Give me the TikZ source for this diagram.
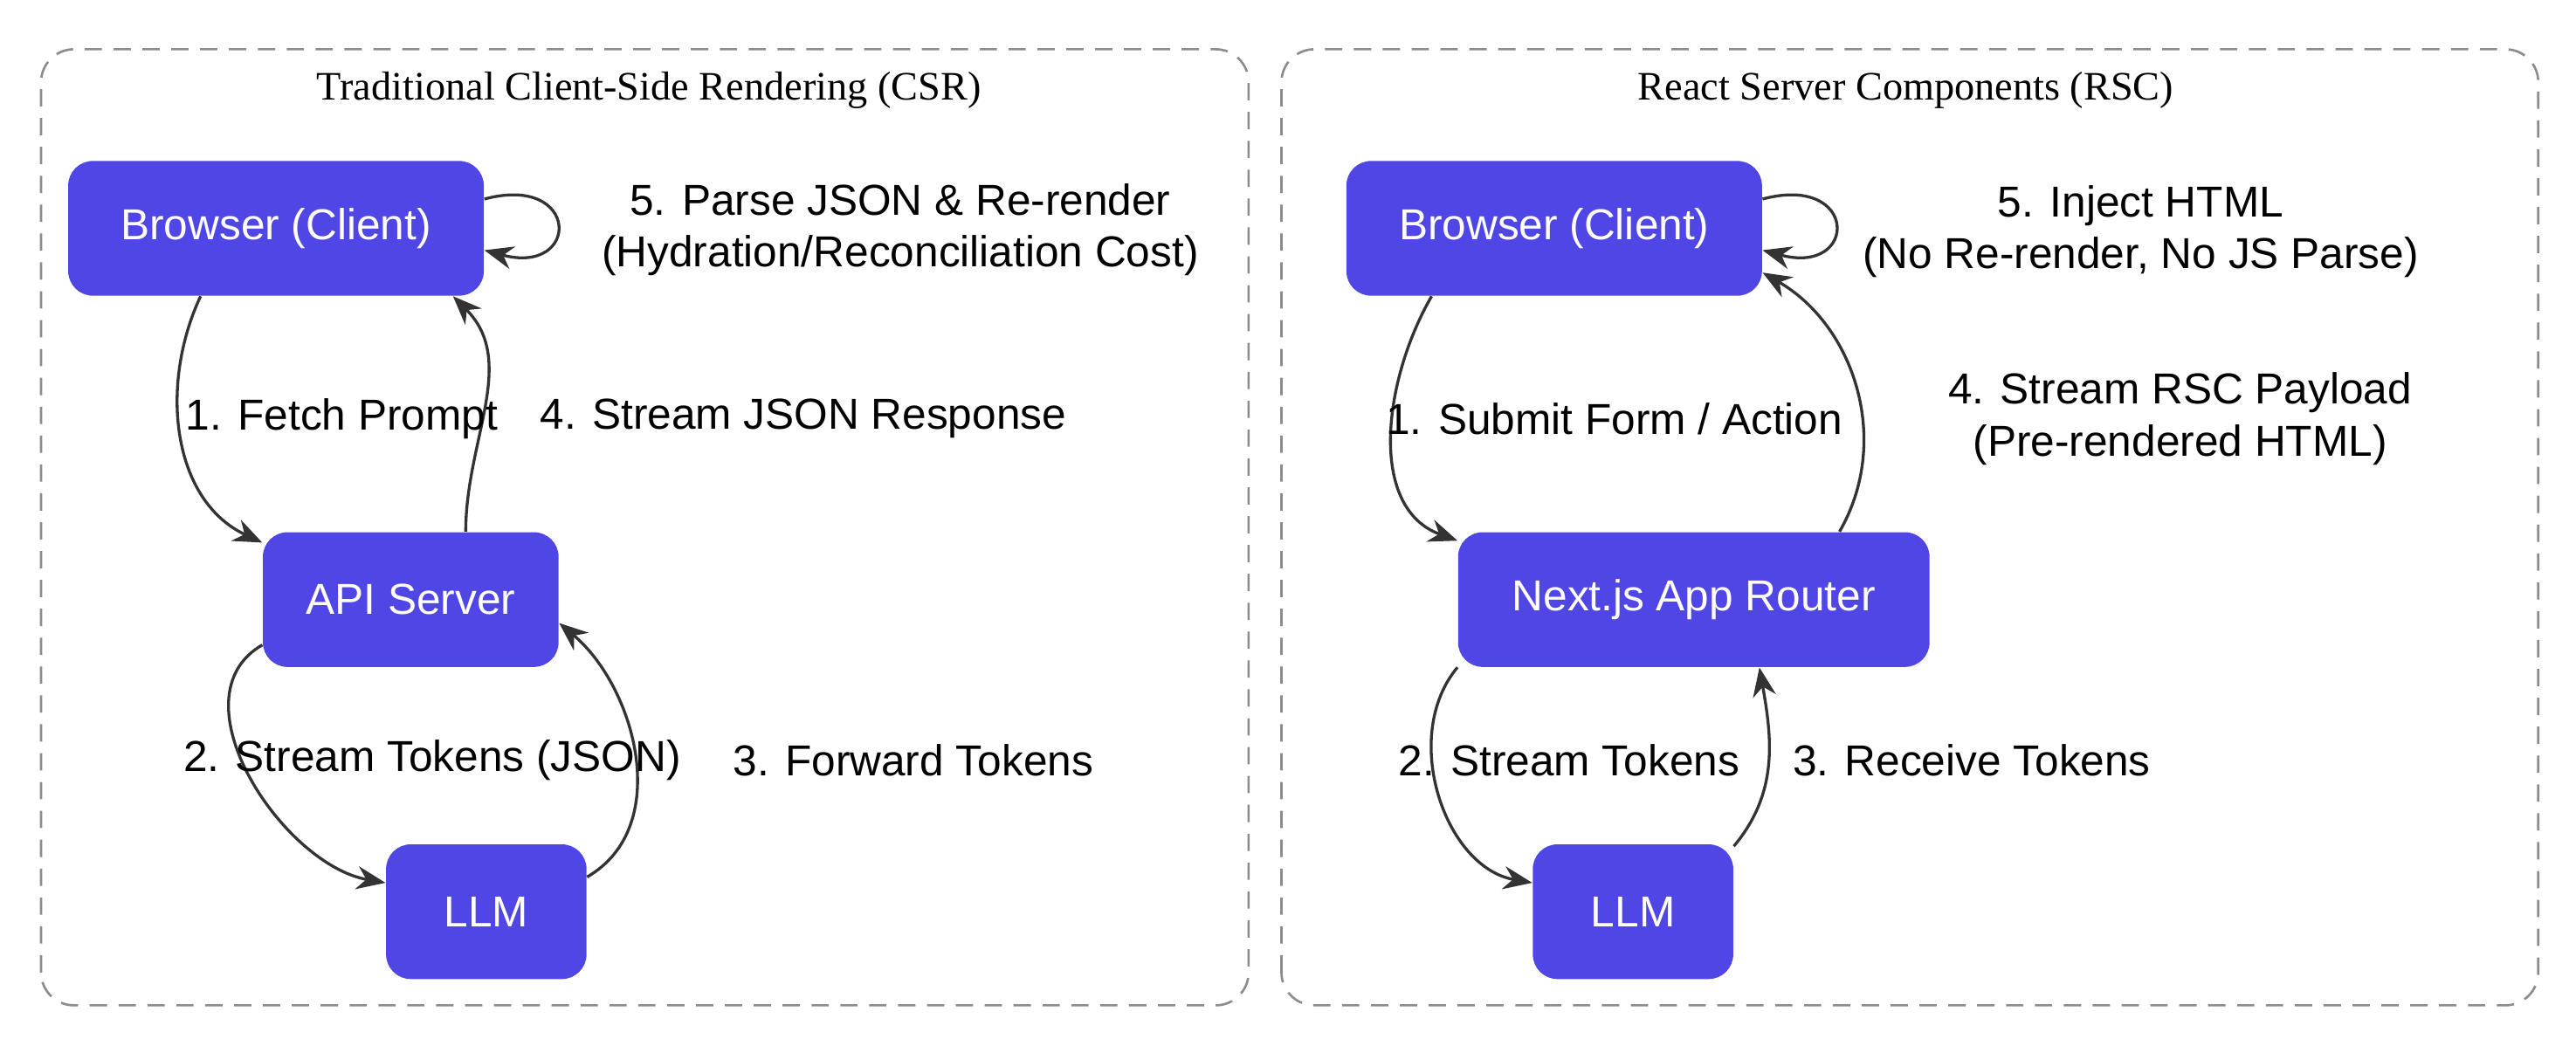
\documentclass[tikz,border=0pt]{standalone}
\usepackage{fontspec}
\setmainfont{Liberation Serif}
\setsansfont{Liberation Sans}
\usetikzlibrary{arrows.meta}
\definecolor{nodefill}{HTML}{5046E5}
\definecolor{edgegray}{HTML}{333333}
\tikzset{
  box/.style={draw=gray!90, dashed, dash pattern=on 6pt off 4pt, line width=0.8pt, rounded corners=0.4cm},
  title/.style={font=\fontsize{14}{17}\selectfont},
  comp/.style={fill=nodefill, text=white, rounded corners=0.3cm, minimum height=1.64cm,
    font=\sffamily\fontsize{15}{18}\selectfont},
  flow/.style={draw=edgegray, line width=1pt, -{Stealth[length=10pt,width=8pt]}},
  lbl/.style={font=\sffamily\fontsize{15}{18}\selectfont, align=center}
}
\begin{document}
\begin{tikzpicture}
  \useasboundingbox (0,0) rectangle (31.36,12.82);
  % clusters
  \draw [box] (0.5,0.58) rectangle (15.2,12.22);
  \draw [box] (15.6,0.58) rectangle (30.9,12.22);
  \node [title] (csrT) at (7.9,11.72) {Traditional Client-Side Rendering (CSR)};
  \node [title] (rscT) at (23.2,11.72) {React Server Components (RSC)};

  % CSR
  \node [comp, minimum width=5.06cm] (bL) at (3.36,10.04) {Browser (Client)};
  \node [comp, minimum width=3.6cm] (api) at (5.0,5.52) {API Server};
  \node [comp, minimum width=2.44cm] (llmL) at (5.92,1.72) {LLM};
  \draw [flow] (bL.-138) to [out=-115, in=155] (api.159);
  \draw [flow] (api.51) to [out=90, in=-45] (bL.-21);
  \draw [flow] (bL.8) to [out=15, in=-15, looseness=5] (bL.-6);
  \draw [flow] (api.-163) to [out=-150, in=170] (llmL.164);
  \draw [flow] (llmL.19) to [out=30, in=-40] (api.-9);
  \node [lbl] (l1) at (4.16,7.72) {1. Fetch Prompt};
  \node [lbl, anchor=west] (l4) at (6.45,7.72) {4. Stream JSON Response};
  \node [lbl] (l5) at (10.96,10.02) {5. Parse JSON \& Re-render\\(Hydration/Reconciliation Cost)};
  \node [lbl] (l2) at (5.26,3.56) {2. Stream Tokens (JSON)};
  \node [lbl, anchor=west] (l3) at (8.8,3.56) {3. Forward Tokens};

  % RSC
  \node [comp, minimum width=5.06cm] (bR) at (18.92,10.04) {Browser (Client)};
  \node [comp, minimum width=5.74cm] (next) at (20.62,5.52) {Next.js App Router};
  \node [comp, minimum width=2.44cm] (llmR) at (19.88,1.72) {LLM};
  \draw [flow] (bR.-151) to [out=-120, in=160] (next.166);
  \draw [flow] (next.25) to [out=60, in=-30] (bR.-12);
  \draw [flow] (bR.8) to [out=15, in=-15, looseness=5] (bR.-6);
  \draw [flow] (next.-164) to [out=-130, in=170] (llmR.164);
  \draw [flow] (llmR.33) to [out=50, in=-80] (next.-46);
  \node [lbl, anchor=west] (r1) at (16.75,7.72) {1. Submit Form / Action};
  \node [lbl] (r4) at (26.54,7.72) {4. Stream RSC Payload\\(Pre-rendered HTML)};
  \node [lbl] (r5) at (26.06,10.0) {5. Inject HTML\\(No Re-render, No JS Parse)};
  \node [lbl, anchor=west] (r2) at (16.9,3.56) {2. Stream Tokens};
  \node [lbl, anchor=west] (r3) at (21.7,3.56) {3. Receive Tokens};
\end{tikzpicture}
\end{document}
